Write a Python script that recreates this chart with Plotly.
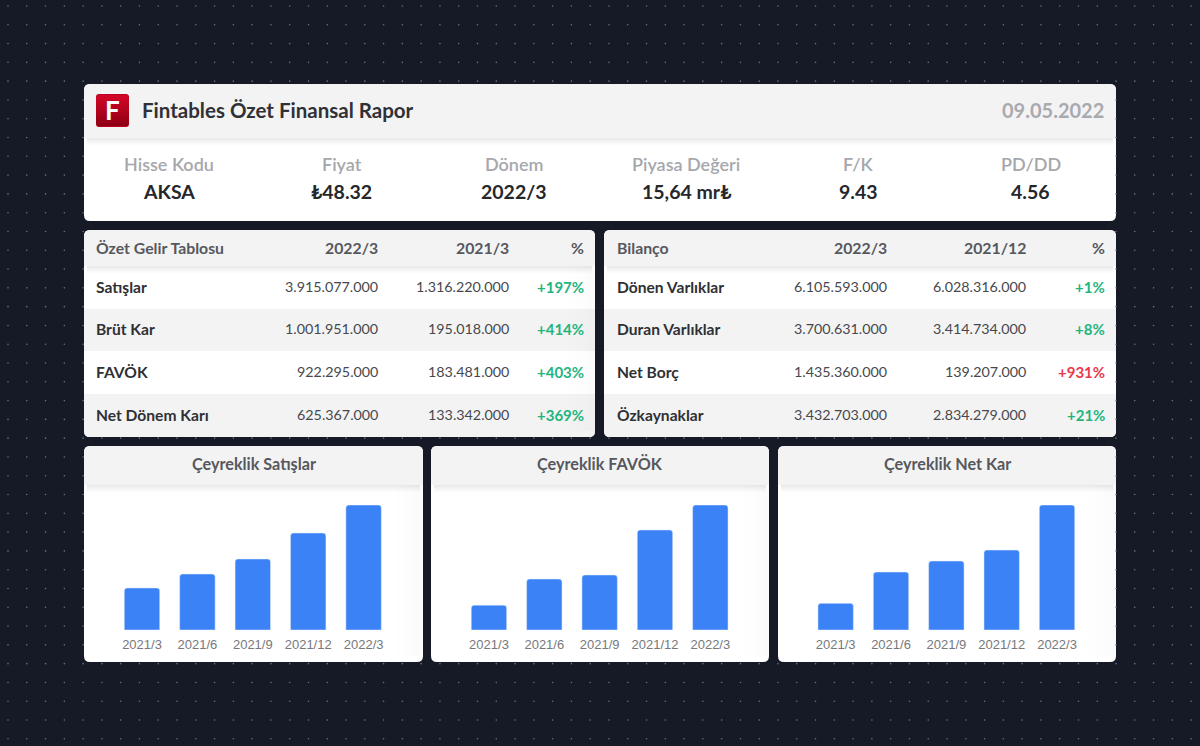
"""
Fintables summary report card, rebuilt with Plotly.
Panels are layout shapes, texts are annotations, bars come from three subplots.
"""
import numpy as np
import plotly.graph_objects as go

W, H = 1200, 746
FONT = "Lato"

# header card
report_title = "Fintables Özet Finansal Rapor"
report_date = "09.05.2022"
info_labels = ["Hisse Kodu", "Fiyat", "Dönem", "Piyasa Değeri", "F/K", "PD/DD"]
info_values = ["AKSA", "₺48.32", "2022/3", "15,64 mr₺", "9.43", "4.56"]

# income table
income_header = ["Özet Gelir Tablosu", "2022/3", "2021/3", "%"]
income_rows = ["Satışlar", "Brüt Kar", "FAVÖK", "Net Dönem Karı"]
income_now = ["3.915.077.000", "1.001.951.000", "922.295.000", "625.367.000"]
income_prev = ["1.316.220.000", "195.018.000", "183.481.000", "133.342.000"]
income_pct = ["+197%", "+414%", "+403%", "+369%"]

# balance table
balance_header = ["Bilanço", "2022/3", "2021/12", "%"]
balance_rows = ["Dönen Varlıklar", "Duran Varlıklar", "Net Borç", "Özkaynaklar"]
balance_now = ["6.105.593.000", "3.700.631.000", "1.435.360.000", "3.432.703.000"]
balance_prev = ["6.028.316.000", "3.414.734.000", "139.207.000", "2.834.279.000"]
balance_pct = ["+1%", "+8%", "+931%", "+21%"]
balance_pct_colors = ["#1fb57e", "#1fb57e", "#e8394d", "#1fb57e"]

# quarterly charts, in thousands
quarters = ["2021/3", "2021/6", "2021/9", "2021/12", "2022/3"]
chart_titles = ["Çeyreklik Satışlar", "Çeyreklik FAVÖK", "Çeyreklik Net Kar"]
sales_q = [1316220, 1754000, 2224000, 3038000, 3915077]
favok_q = [183481, 376000, 406000, 738000, 922295]
netkar_q = [133342, 290000, 345000, 400000, 625367]

GREEN = "#1fb57e"
HEAD_BG = "#f3f3f4"
ROW_BG = "#f3f3f4"
BG = "#151a26"


def px(x):
    return x / W


def py(y):
    return 1 - y / H


def rounded(x0, y0, x1, y1, r=6, top=True, bottom=True):
    """SVG path of a box in pixels, corners rounded where asked."""
    rt = r if top else 0
    rb = r if bottom else 0
    return (f"M{x0 + rt},{y0} L{x1 - rt},{y0} Q{x1},{y0} {x1},{y0 + rt} "
            f"L{x1},{y1 - rb} Q{x1},{y1} {x1 - rb},{y1} L{x0 + rb},{y1} "
            f"Q{x0},{y1} {x0},{y1 - rb} L{x0},{y0 + rt} Q{x0},{y0} {x0 + rt},{y0} Z")


shapes = []
annotations = []


# the pixel axes x/y come first so the chart subplots stack above these shapes
def add_path(path, color):
    shapes.append(dict(type="path", path=path, xref="x", yref="y", fillcolor=color,
                       line_width=0, layer="below"))


def add_rect(x0, y0, x1, y1, color):
    shapes.append(dict(type="rect", x0=x0, y0=y0, x1=x1, y1=y1, xref="x", yref="y",
                       fillcolor=color, line_width=0, layer="below"))


def add_text(x, y, text, size, color, anchor="center", weight=400, family=FONT):
    if anchor == "left":
        x -= 2.5
    elif anchor == "right":
        x += 2
    annotations.append(dict(x=px(x), y=py(y), xref="paper", yref="paper", text=text,
                            showarrow=False, xanchor=anchor, yanchor="middle",
                            font=dict(size=size, color=color, family=family, weight=weight)))


def add_fade(x1, y0, y1):
    # grey veil creeping in from the right edge
    for k in range(14):
        add_rect(x1 - 2 * k - 2, y0, x1 - 2 * k, y1, f"rgba(0,0,0,{0.0035 * (14 - k) / 3:.4f})")


def add_header_shadow(x0, x1, y):
    for k in range(7):
        add_rect(x0 + 3, y, x1 - 3, y + k + 1, "rgba(0,0,0,0.012)")


def add_card(x0, y0, x1, y1, head_bottom, fade_right=False):
    add_path(rounded(x0, y0, x1, y1), "#ffffff")
    if fade_right:
        add_fade(x1, head_bottom, y1 - 6)
    add_header_shadow(x0, x1, head_bottom)
    add_path(rounded(x0, y0, x1, head_bottom, bottom=False), HEAD_BG)


# info card
add_card(84, 84, 1116, 221, 138)
add_path(rounded(96, 94, 129, 127, r=3), "#b8001f")
for k in range(31):
    shade = (int(212 - 70 * k / 30), int(6 - 6 * k / 30), int(40 - 20 * k / 30))
    add_rect(96 if 1 < k < 29 else 97, 95 + k, 129 if 1 < k < 29 else 128, 96 + k, f"rgb{shade}")
add_text(112.5, 110, "F", 26, "#ffffff", weight=700)
add_text(142, 110, report_title, 20.5, "#303136", "left", 700)
add_text(1104, 110, report_date, 20, "#a9aaaf", "right", 700)
info_x = [169.5, 342, 514, 686, 858, 1030.5]
for x, label, value in zip(info_x, info_labels, info_values):
    add_text(x, 164, label, 18, "#a6a7ac", weight=600)
    add_text(x, 192, value, 19.5, "#26272b", weight=700)


def add_table(x0, x1, header, rows, now, prev, pct, colors, fade_right=False):
    add_path(rounded(x0, 230, x1, 437), "#ffffff")
    add_rect(x0, 309, x1, 351, ROW_BG)
    add_path(rounded(x0, 394, x1, 437, top=False), ROW_BG)
    if fade_right:
        add_fade(x1, 266, 431)
    add_header_shadow(x0, x1, 266)
    add_path(rounded(x0, 230, x1, 266, bottom=False), HEAD_BG)
    col_x = [x0 + 12.5, x0 + 294, x0 + 425, x1 - 11.5]
    if x0 > 500:
        col_x = [x0 + 13, x0 + 283, x0 + 422, x1 - 11.5]
    for j, text in enumerate(header):
        add_text(col_x[j], 247.5, text, 15.8, "#57585d", "left" if j == 0 else "right", 700)
    row_y = [286.5, 329, 371.5, 414.5]
    for i, y in enumerate(row_y):
        add_text(col_x[0], y, rows[i], 15.6, "#2f3034", "left", 700)
        add_text(col_x[1], y, now[i], 14.3, "#47484d", "right")
        add_text(col_x[2], y, prev[i], 14.3, "#47484d", "right")
        add_text(col_x[3], y, pct[i], 15, colors[i], "right", 700)


add_table(84, 595, income_header, income_rows, income_now, income_prev, income_pct, [GREEN] * 4, True)
add_table(604, 1116, balance_header, balance_rows, balance_now, balance_prev, balance_pct, balance_pct_colors)

# chart cards
card_x = [(84, 423), (431, 769), (778, 1116)]
plot_x = [(114.3, 391.3), (461.3, 738), (808, 1084.7)]
for (x0, x1), title in zip(card_x, chart_titles):
    add_card(x0, 446, x1, 662, 485, fade_right=True)
    add_text((x0 + x1) / 2, 463.5, title, 16.2, "#57585d", weight=700)

fig = go.Figure()

# dotted background, grid points hidden by the cards are dropped
gx, gy = np.meshgrid(8 + 18.78 * np.arange(64), 6 + 18.79 * np.arange(40))
gx, gy = gx.ravel(), gy.ravel()
covered = ((gx > 84) & (gx < 1116) & (gy > 84) & (gy < 221)
           | (gx > 84) & (gx < 1116) & (gy > 230) & (gy < 437)
           | (gx > 84) & (gx < 1116) & (gy > 446) & (gy < 662))
fig.add_trace(go.Scatter(x=gx[~covered], y=gy[~covered], mode="markers",
                         marker=dict(size=1.6, color="#6b707b"), hoverinfo="skip"))

chart_values = [sales_q, favok_q, netkar_q]
for n, values in enumerate(chart_values):
    suffix = str(n + 2)
    fig.add_trace(go.Bar(x=quarters, y=values, marker_color="#3b82f6", xaxis=f"x{suffix}",
                         yaxis=f"y{suffix}", hoverinfo="skip"))
    fig.update_layout({
        f"xaxis{suffix}": dict(domain=[px(plot_x[n][0]), px(plot_x[n][1])], anchor=f"y{suffix}",
                               type="category", showgrid=False, zeroline=False, showline=False,
                               ticks="", ticklabelstandoff=5,
                               tickfont=dict(family="Liberation Sans", size=13, color="#77787c")),
        f"yaxis{suffix}": dict(domain=[py(630), py(505)], anchor=f"x{suffix}", range=[0, max(values)],
                               visible=False),
    })

fig.update_layout(
    width=W, height=H, margin=dict(l=0, r=0, t=0, b=0), showlegend=False, hovermode=False,
    paper_bgcolor=BG, plot_bgcolor="rgba(0,0,0,0)", barcornerradius=3, bargap=0.36,
    xaxis=dict(domain=[0, 1], range=[0, W], visible=False),
    yaxis=dict(domain=[0, 1], range=[H, 0], visible=False),
    shapes=shapes, annotations=annotations,
)

fig.write_html("out.html", config={"displayModeBar": False},
               post_script="document.body.style.margin='0';")
